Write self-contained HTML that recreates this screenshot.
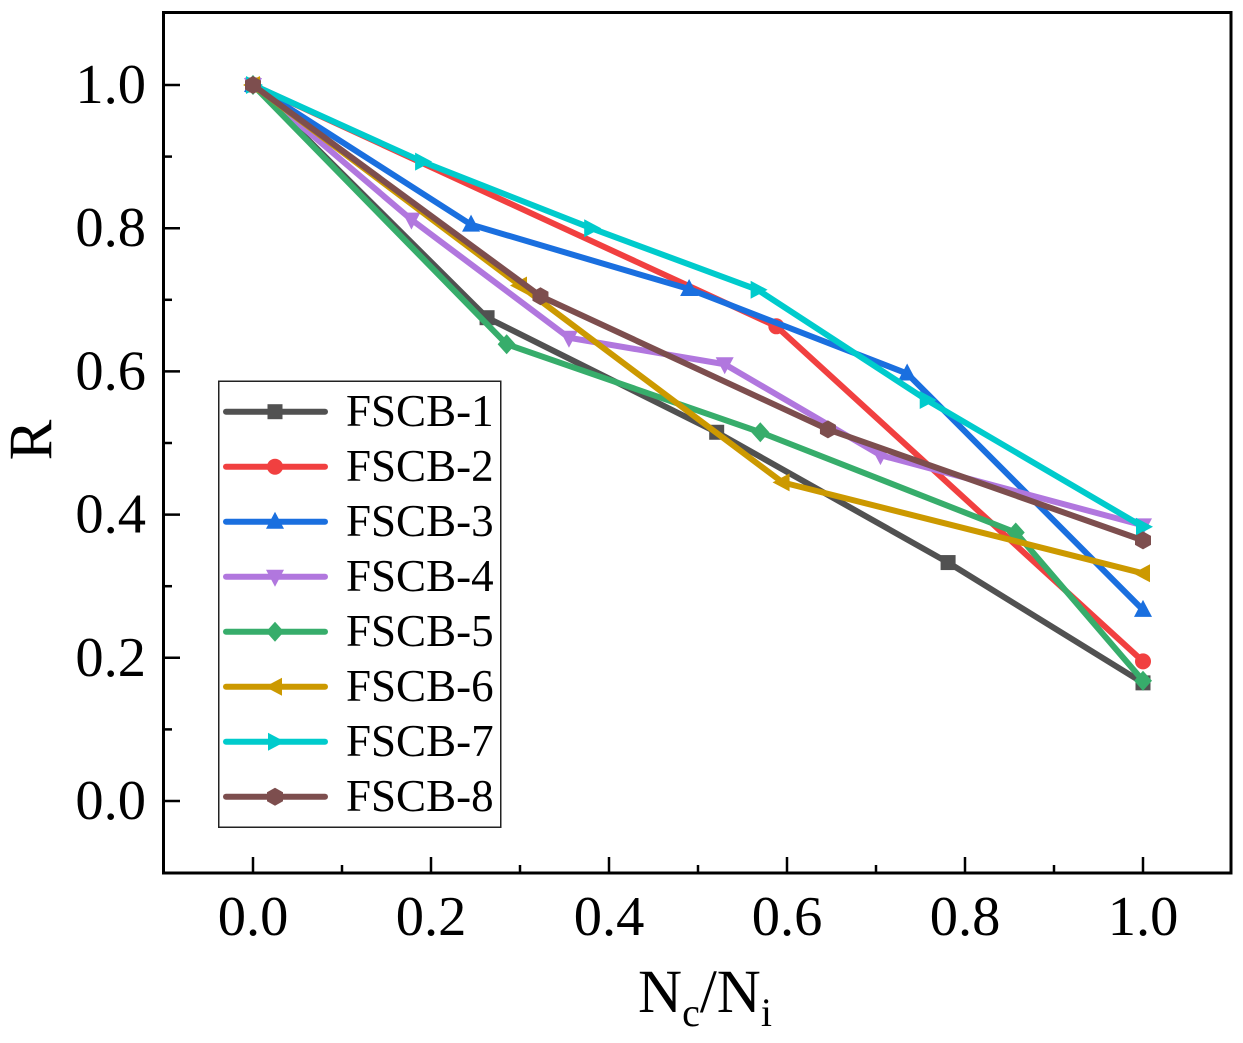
<!DOCTYPE html>
<html>
<head>
<meta charset="utf-8">
<title>R vs Nc/Ni</title>
<style>
html,body{margin:0;padding:0;background:#fff;}
svg{display:block;}
text{font-family:"Liberation Serif",serif;fill:#000;}
</style>
</head>
<body>
<svg id="chart" width="1243" height="1043" viewBox="0 0 1243 1043" xmlns="http://www.w3.org/2000/svg"></svg>
<script>
const seriesNames = ['FSCB-1','FSCB-2','FSCB-3','FSCB-4','FSCB-5','FSCB-6','FSCB-7','FSCB-8'];
const seriesColors = ['#515151','#F14040','#1A6FDF','#B177DE','#37AD6B','#CC9900','#00CBCC','#7D4E4E'];
const seriesMarkers = ['square','circle','up','down','diamond','left','right','hexagon'];
const xFSCB1 = [0,0.263,0.521,0.781,1];
const yFSCB1 = [1,0.675,0.515,0.333,0.165];
const xFSCB2 = [0,0.588,1];
const yFSCB2 = [1,0.663,0.195];
const xFSCB3 = [0,0.245,0.49,0.735,1];
const yFSCB3 = [1,0.805,0.715,0.597,0.267];
const xFSCB4 = [0,0.178,0.355,0.53,0.705,1];
const yFSCB4 = [1,0.812,0.647,0.61,0.483,0.385];
const xFSCB5 = [0,0.285,0.57,0.857,1];
const yFSCB5 = [1,0.638,0.515,0.375,0.168];
const xFSCB6 = [0,0.3,0.595,1];
const yFSCB6 = [1,0.72,0.445,0.318];
const xFSCB7 = [0,0.19,0.38,0.567,0.757,1];
const yFSCB7 = [1,0.893,0.8,0.714,0.56,0.383];
const xFSCB8 = [0,0.323,0.646,1];
const yFSCB8 = [1,0.705,0.519,0.364];
const xValues = [xFSCB1,xFSCB2,xFSCB3,xFSCB4,xFSCB5,xFSCB6,xFSCB7,xFSCB8];
const yValues = [yFSCB1,yFSCB2,yFSCB3,yFSCB4,yFSCB5,yFSCB6,yFSCB7,yFSCB8];
const xTickLabels = ['0.0','0.2','0.4','0.6','0.8','1.0'];
const yTickLabels = ['0.0','0.2','0.4','0.6','0.8','1.0'];
const minorTicks = [0.1,0.3,0.5,0.7,0.9];

const NS = 'http://www.w3.org/2000/svg';
const svg = document.getElementById('chart');
const sx = v => 253 + v * 890;
const sy = v => 801 - v * 716;

function make(tag, attrs, parent) {
  const el = document.createElementNS(NS, tag);
  for (const k in attrs) el.setAttribute(k, attrs[k]);
  (parent || svg).appendChild(el);
  return el;
}
function drawMarker(kind, x, y, color, parent) {
  const r = 8;
  let el;
  if (kind === 'square') {
    el = make('rect', {x: x - 7.5, y: y - 7.5, width: 15, height: 15, fill: color}, parent);
  } else if (kind === 'circle') {
    el = make('circle', {cx: x, cy: y, r: r, fill: color}, parent);
  } else {
    const shapes = {
      up: [[0,-10],[9,7],[-9,7]],
      down: [[0,10],[9,-7],[-9,-7]],
      left: [[-10,0],[7,-9],[7,9]],
      right: [[10,0],[-7,-9],[-7,9]],
      diamond: [[0,-10],[9,0],[0,10],[-9,0]],
      hexagon: [[0,-9],[8,-4.5],[8,4.5],[0,9],[-8,4.5],[-8,-4.5]]
    };
    const pts = shapes[kind].map(p => (x + p[0]) + ',' + (y + p[1])).join(' ');
    el = make('polygon', {points: pts, fill: color}, parent);
  }
  return el;
}

/* series */
seriesNames.forEach((name, i) => {
  const g = make('g', {});
  
  
  const pts = xValues[i].map((v, j) => sx(v) + ',' + sy(yValues[i][j])).join(' ');
  const line = make('polyline', {points: pts, fill: 'none', stroke: seriesColors[i], 'stroke-width': 6, 'stroke-linejoin': 'round'}, g);
  
  
  xValues[i].forEach((v, j) => {
    const m = drawMarker(seriesMarkers[i], sx(v), sy(yValues[i][j]), seriesColors[i], g);
    
    
  });
});

/* axes frame */
const frame = make('rect', {x: 163.5, y: 12.5, width: 1067.5, height: 860.5, fill: 'none', stroke: '#000', 'stroke-width': 3});



/* ticks */
xTickLabels.forEach(label => {
  const v = parseFloat(label);
  const t = make('line', {x1: sx(v), x2: sx(v), y1: 873, y2: 857, stroke: '#000', 'stroke-width': 2.5});
  
  
  const txt = make('text', {x: sx(v), y: 935, 'font-size': 56.5, 'text-anchor': 'middle'});
  txt.textContent = label;
  
  
});
yTickLabels.forEach(label => {
  const v = parseFloat(label);
  const t = make('line', {x1: 163, x2: 180, y1: sy(v), y2: sy(v), stroke: '#000', 'stroke-width': 2.5});
  
  
  const txt = make('text', {x: 146, y: sy(v) + 18, 'font-size': 56.5, 'text-anchor': 'end'});
  txt.textContent = label;
  
  
});
minorTicks.forEach(v => {
  const a = make('line', {x1: sx(v), x2: sx(v), y1: 873, y2: 865, stroke: '#000', 'stroke-width': 2.5});
  
  
  const b = make('line', {x1: 163, x2: 172, y1: sy(v), y2: sy(v), stroke: '#000', 'stroke-width': 2.5});
  
  
});

/* axis titles */
const yTitle = make('text', {x: 0, y: 0, 'font-size': 61, 'text-anchor': 'middle', transform: 'translate(51 440) rotate(-90)'});
yTitle.textContent = 'R';



const xTitle = make('text', {x: 705, y: 1012, 'font-size': 61, 'text-anchor': 'middle'});


[['N',0],['c',1],['/',0],['N',0],['i',1]].forEach(p => {
  const s = make('tspan', p[1] ? {'font-size': 40, dy: 14} : {'font-size': 61, dy: 0}, xTitle);
  s.textContent = p[0];
  if (p[0] === '/') s.setAttribute('dy', -14);
});

/* legend */
const legend = make('g', {});


const legendBox = make('rect', {x: 218.75, y: 381.25, width: 282, height: 446, fill: '#fff', stroke: '#222', 'stroke-width': 1.5}, legend);


seriesNames.forEach((name, i) => {
  const rowY = 411.7 + i * 55;
  const row = make('g', {}, legend);
  
  
  make('line', {x1: 226, x2: 325, y1: rowY, y2: rowY, stroke: seriesColors[i], 'stroke-width': 6, 'stroke-linecap': 'round'}, row);
  drawMarker(seriesMarkers[i], 275, rowY, seriesColors[i], row);
  const label = make('text', {x: 346, y: rowY + 14.5, 'font-size': 45}, row);
  label.textContent = name;
  
  
});
</script>
</body>
</html>
